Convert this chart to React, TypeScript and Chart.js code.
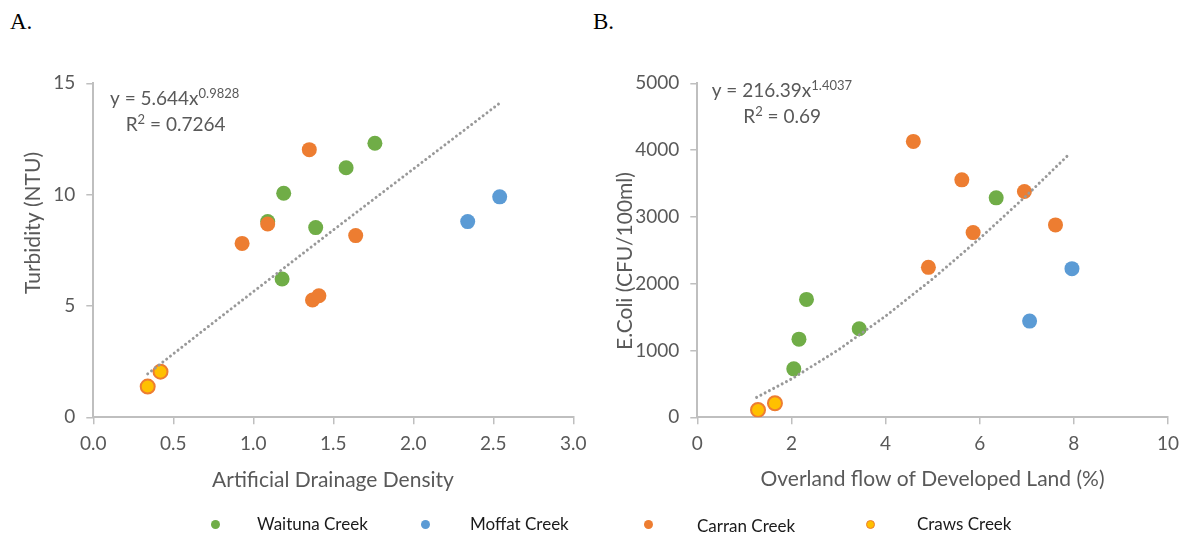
import React, { useEffect, useRef } from "react";
import { Chart, registerables } from "chart.js";

Chart.register(...registerables);

// ---------- data ----------
const seriesNames = ["Waituna Creek", "Moffat Creek", "Carran Creek", "Craws Creek"];

// Panel A: Artificial Drainage Density vs Turbidity (NTU)
const waitunaAX = [1.76, 1.58, 1.19, 1.09, 1.39, 1.18];
const waitunaAY = [12.31, 11.21, 10.06, 8.79, 8.52, 6.21];
const moffatAX = [2.54, 2.34];
const moffatAY = [9.9, 8.79];
const carranAX = [1.35, 1.09, 0.93, 1.64, 1.37, 1.41];
const carranAY = [12.02, 8.68, 7.81, 8.16, 5.27, 5.46];
const crawsAX = [0.34, 0.42];
const crawsAY = [1.38, 2.05];
const trendAX = [0.34, 0.75, 1.0, 1.5, 2.0, 2.54];
const trendAY = [1.95, 4.25, 5.64, 8.41, 11.15, 14.11];

// Panel B: Overland flow of Developed Land (%) vs E.Coli
const waitunaBX = [6.35, 2.32, 2.16, 3.44, 2.05];
const waitunaBY = [3285, 1765, 1170, 1325, 725];
const moffatBX = [7.96, 7.06];
const moffatBY = [2225, 1440];
const carranBX = [4.59, 5.62, 6.95, 5.86, 7.61, 4.91];
const carranBY = [4130, 3555, 3380, 2765, 2880, 2245];
const crawsBX = [1.29, 1.65];
const crawsBY = [110, 210];
const trendBX = [1.26, 2, 3, 4, 5, 6, 7, 7.88];
const trendBY = [299, 573, 1011, 1515, 2072, 2677, 3324, 3925];

const axisTitlesA = ["Artificial Drainage Density", "Turbidity (NTU)"];
const axisTitlesB = ["Overland flow of Developed Land (%)", "E.Coli (CFU/100ml)"];
const eqA = [["y = 5.644x", "0.9828", ""], ["R", "2", " = 0.7264"]];
const eqB = [["y = 216.39x", "1.4037", ""], ["R", "2", " = 0.69"]];

// ---------- styles ----------
const FONT = "Lato, 'Open Sans', sans-serif";
const TEXT = "#595959";
const AXIS = "#bfbfbf";
const TREND = "#999999";
const C_WAITUNA = "#70ad47";
const C_MOFFAT = "#5b9bd5";
const C_CARRAN = "#ed7d31";
const C_CRAWS = "#ffc000";

const pts = (xs: number[], ys: number[]) => xs.map((x, i) => ({ x, y: ys[i] }));

const extraText = {
  id: "extraText",
  afterDraw(chart: any, _args: any, opts: any) {
    const ctx = chart.ctx as CanvasRenderingContext2D;
    ctx.save();
    ctx.fillStyle = TEXT;
    // x title
    ctx.font = `21px ${FONT}`;
    ctx.textAlign = "center";
    ctx.textBaseline = "alphabetic";
    ctx.fillText(opts.xTitle, opts.xTitlePos[0], opts.xTitlePos[1]);
    // y title
    ctx.save();
    ctx.translate(opts.yTitlePos[0], opts.yTitlePos[1]);
    ctx.rotate(-Math.PI / 2);
    ctx.textBaseline = "middle";
    ctx.fillText(opts.yTitle, 0, 0);
    ctx.restore();
    // equation
    ctx.textAlign = "left";
    ctx.textBaseline = "alphabetic";
    opts.eq.forEach((line: string[], li: number) => {
      let x = opts.eqPos[li][0];
      const base = opts.eqPos[li][1];
      line.forEach((t, k) => {
        const sup = k === 1;
        ctx.font = `${sup ? 13 : 19}px ${FONT}`;
        ctx.fillText(t, x, sup ? base - 7 : base);
        x += ctx.measureText(t).width;
      });
    });
    ctx.restore();
  },
};

function makeChart(canvas: HTMLCanvasElement, c: any) {
  const pointDs = (label: string, data: any, color: string, order: number) => ({
    label,
    data,
    backgroundColor: color,
    borderColor: color,
    borderWidth: 0,
    pointRadius: 7.5,
    pointHoverRadius: 7.5,
    order,
  });
  return new Chart(canvas, {
    type: "scatter",
    data: {
      datasets: [
        {
          label: "trend",
          data: c.trend,
          showLine: true,
          borderColor: TREND,
          borderWidth: 3,
          borderDash: [0.01, 4.8],
          borderCapStyle: "round",
          pointRadius: 0,
          pointHoverRadius: 0,
          fill: false,
          order: 0,
        } as any,
        {
          label: seriesNames[3],
          data: c.craws,
          backgroundColor: C_CRAWS,
          borderColor: C_CARRAN,
          borderWidth: 2,
          pointRadius: 7,
          pointHoverRadius: 7,
          order: 1,
        },
        pointDs(seriesNames[2], c.carran, C_CARRAN, 2),
        pointDs(seriesNames[1], c.moffat, C_MOFFAT, 3),
        pointDs(seriesNames[0], c.waituna, C_WAITUNA, 4),
      ],
    },
    options: {
      animation: false,
      responsive: false,
      events: [],
      layout: { padding: { left: 0, top: 83.3, right: c.padRight, bottom: 0 } },
      plugins: {
        legend: { display: false },
        tooltip: { enabled: false },
        extraText: c.text,
      } as any,
      scales: {
        x: {
          type: "linear",
          min: c.xMin,
          max: c.xMax,
          afterFit: (s: any) => {
            s.height = c.xAxisH;
          },
          ticks: {
            stepSize: c.xStep,
            callback: c.xFmt,
            font: { family: FONT, size: 19 },
            color: TEXT,
            padding: 8,
          },
          grid: { drawOnChartArea: false, drawTicks: true, tickLength: 7, color: AXIS, lineWidth: 1.5 },
          border: { display: true, color: AXIS, width: 2 },
        },
        y: {
          type: "linear",
          min: c.yMin,
          max: c.yMax,
          afterFit: (s: any) => {
            s.width = c.yAxisW;
          },
          ticks: {
            stepSize: c.yStep,
            callback: (v: any) => String(v),
            font: { family: FONT, size: 19 },
            color: TEXT,
            padding: 11,
          },
          grid: { drawOnChartArea: false, drawTicks: true, tickLength: 7, color: AXIS, lineWidth: 1.5 },
          border: { display: true, color: AXIS, width: 2 },
        },
      },
    } as any,
    plugins: [extraText as any],
  });
}

export default function App() {
  const refA = useRef<HTMLCanvasElement>(null);
  const refB = useRef<HTMLCanvasElement>(null);

  useEffect(() => {
    const a = makeChart(refA.current!, {
      trend: pts(trendAX, trendAY),
      craws: pts(crawsAX, crawsAY),
      carran: pts(carranAX, carranAY),
      moffat: pts(moffatAX, moffatAY),
      waituna: pts(waitunaAX, waitunaAY),
      padRight: 595 - 573.3,
      xAxisH: 538 - 417.3,
      yAxisW: 93.3,
      xMin: 0,
      xMax: 3,
      xStep: 0.5,
      xFmt: (v: any) => Number(v).toFixed(1),
      yMin: 0,
      yMax: 15,
      yStep: 5,
      text: {
        xTitle: axisTitlesA[0],
        yTitle: axisTitlesA[1],
        xTitlePos: [333, 487],
        yTitlePos: [33, 223],
        eq: eqA,
        eqPos: [
          [110, 105],
          [125.7, 130.7],
        ],
      },
    });
    const b = makeChart(refB.current!, {
      trend: pts(trendBX, trendBY),
      craws: pts(crawsBX, crawsBY),
      carran: pts(carranBX, carranBY),
      moffat: pts(moffatBX, moffatBY),
      waituna: pts(waitunaBX, waitunaBY),
      padRight: 592 - 573,
      xAxisH: 538 - 417.3,
      yAxisW: 102.3,
      xMin: 0,
      xMax: 10,
      xStep: 2,
      xFmt: (v: any) => String(v),
      yMin: 0,
      yMax: 5000,
      yStep: 1000,
      text: {
        xTitle: axisTitlesB[0],
        yTitle: axisTitlesB[1],
        xTitlePos: [337.5, 486],
        yTitlePos: [30.5, 261],
        eq: eqB,
        eqPos: [
          [116.7, 97.3],
          [148.3, 122.7],
        ],
      },
    });
    return () => {
      a.destroy();
      b.destroy();
    };
  }, []);

  const legendColors = [C_WAITUNA, C_MOFFAT, C_CARRAN, C_CRAWS];
  const dotX = [215, 425, 648, 870];
  const textX = [257, 470, 697, 917];
  const textY = [514, 514, 516, 514];

  return (
    <div style={{ position: "absolute", left: 0, top: 0, width: 1187, height: 538, background: "#fff", overflow: "hidden" }}>
      <div style={{ position: "absolute", left: 10, top: 10, font: "23px 'Liberation Serif', 'Times New Roman', serif", lineHeight: "23px", color: "#000" }}>A.</div>
      <div style={{ position: "absolute", left: 593, top: 10, font: "23px 'Liberation Serif', 'Times New Roman', serif", lineHeight: "23px", color: "#000" }}>B.</div>
      <canvas ref={refA} width={595} height={538} style={{ position: "absolute", left: 0, top: 0, display: "block" }} />
      <canvas ref={refB} width={592} height={538} style={{ position: "absolute", left: 595, top: 0, display: "block" }} />
      {seriesNames.map((n, i) => (
        <React.Fragment key={n}>
          <div
            style={{
              position: "absolute",
              left: dotX[i] - 4.5,
              top: 524 - 4.5,
              width: 9,
              height: 9,
              borderRadius: "50%",
              background: legendColors[i],
              boxSizing: "border-box",
              border: i === 3 ? `1.5px solid ${C_CARRAN}` : "none",
            }}
          />
          <div
            style={{
              position: "absolute",
              left: textX[i],
              top: textY[i],
              font: `17px ${FONT}`,
              lineHeight: "20px",
              color: "#1a1a1a",
              whiteSpace: "nowrap",
            }}
          >
            {n}
          </div>
        </React.Fragment>
      ))}
    </div>
  );
}
